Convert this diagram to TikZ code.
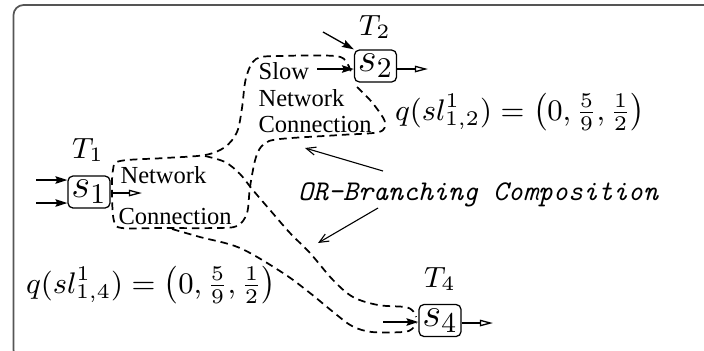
\documentclass[tikz,border=0pt]{standalone}
\usepackage{fix-cm}
\usepackage[no-math]{fontspec}
\setmainfont{Liberation Serif}
\setmonofont{Latin Modern Mono}
\usetikzlibrary{arrows.meta}
\definecolor{framegray}{HTML}{555555}
\tikzset{
  sbox/.style={draw, rounded corners=1.6pt, line width=0.4pt, minimum width=13.4pt, minimum height=10.2pt, inner sep=0pt, font=\fontsize{13}{15}\selectfont},
  tlabel/.style={inner sep=0pt, anchor=base, font=\fontsize{9.3}{10}\selectfont},
  txt/.style={inner sep=0pt, anchor=base west, font=\fontsize{7.8}{9}\selectfont},
  qlabel/.style={inner sep=0pt, anchor=base, font=\fontsize{9.5}{11}\selectfont},
  orlabel/.style={inner sep=0pt, anchor=base, font=\fontsize{9.1}{11}\selectfont\ttfamily\itshape},
  inarr/.style={line width=0.42pt, -{Stealth[length=3.8pt,width=2.4pt,inset=0.6pt]}},
  outarr/.style={line width=0.42pt, -{Triangle[open,length=4.2pt,width=2.1pt]}},
  ptr/.style={line width=0.35pt, -{Straight Barb[length=3pt,width=2.6pt]}},
  tube/.style={dash pattern=on 2.4pt off 1.6pt, line width=0.55pt},
}
\begin{document}
\begin{tikzpicture}[x=0.3185pt,y=-0.3185pt]
\useasboundingbox (0,0) rectangle (704,350);
\begin{scope}
\clip (0,0) rectangle (704,350);
\draw[framegray, line width=0.55pt, rounded corners=3.2pt] (720,5) -- (13.5,5) -- (13.5,360) -- (720,360);
\end{scope}

% boxes
\node[sbox] (s1) at (89,192) {$s_1$};
\node[sbox] (s2) at (375.5,66) {$s_2$};
\node[sbox] (s4) at (440,320.5) {$s_4$};

% T labels
\node[tlabel] (T1) at (88,158) {$T_1$};
\node[tlabel] (T2) at (375,35) {$T_2$};
\node[tlabel] (T4) at (440,287) {$T_4$};

% texts
\node[txt] (net1) at (120,183) {Network};
\node[txt] (con1) at (118,224) {Connection};
\node[txt] (slow) at (258,79) {Slow};
\node[txt] (net2) at (258,106) {Network};
\node[txt] (con2) at (258,132) {Connection};

\node[qlabel] (q12) at (520,120) {$q(sl^1_{1,2}) = \bigl(0, \frac{5}{9}, \frac{1}{2}\bigr)$};
\node[qlabel] (q14) at (151,293) {$q(sl^1_{1,4}) = \bigl(0, \frac{5}{9}, \frac{1}{2}\bigr)$};
\node[orlabel] (orb) at (478,200) {OR-Branching Composition};

% arrows s1
\coordinate (i1a) at (36,180);
\coordinate (i1b) at (36,203);
\coordinate (o1) at (142,193);
\draw[inarr] (i1a) -- (i1a -| s1.west);
\draw[inarr] (i1b) -- (i1b -| s1.west);
\draw[outarr] (o1 -| s1.east) -- (o1);
% arrows s2
\coordinate (i2a) at (323,32);
\coordinate (i2b) at (317,69);
\coordinate (o2) at (428,69);
\draw[inarr] (i2a) -- (s2.north west);
\draw[inarr] (i2b) -- (i2b -| s2.west);
\draw[outarr] (o2 -| s2.east) -- (o2);
% arrows s4
\coordinate (i4) at (383,322);
\coordinate (o4) at (493,323);
\draw[inarr] (i4) -- (i4 -| s4.west);
\draw[outarr] (o4 -| s4.east) -- (o4);

% pointers
\coordinate (p1) at (305,148);
\coordinate (p2) at (318,243);
\draw[ptr] (383,171) -- (p1);
\draw[ptr] (378,208) -- (p2);

% dashed tubes
\draw[tube] plot[smooth, tension=0.55] coordinates {
 (357,87) (370,100) (380,113) (385,123) (379,132) (340,135) (280,139) (264,144)
 (256,157) (250,187) (247,213) (237,226) (215,228) (160,228) (122,228) (114,221)
 (112,195) (113,170) (120,161) (165,158) (205,155) (225,147) (237,132) (242,108)
 (246,78) (256,59) (280,56) (335,56) (347,63) (352,76)};
\draw[tube] plot[smooth, tension=0.55] coordinates {
 (205,156) (225,162) (240,174) (252,189) (270,210) (290,233) (310,253) (333,280) (353,297)
 (378,305) (405,307) (413,311) (416,317)};
\draw[tube] plot[smooth, tension=0.55] coordinates {
 (172,229) (200,237) (240,248) (283,273) (310,293) (332,311) (352,326)
 (372,332) (403,332) (412,329) (416,323)};
\end{tikzpicture}
\end{document}
